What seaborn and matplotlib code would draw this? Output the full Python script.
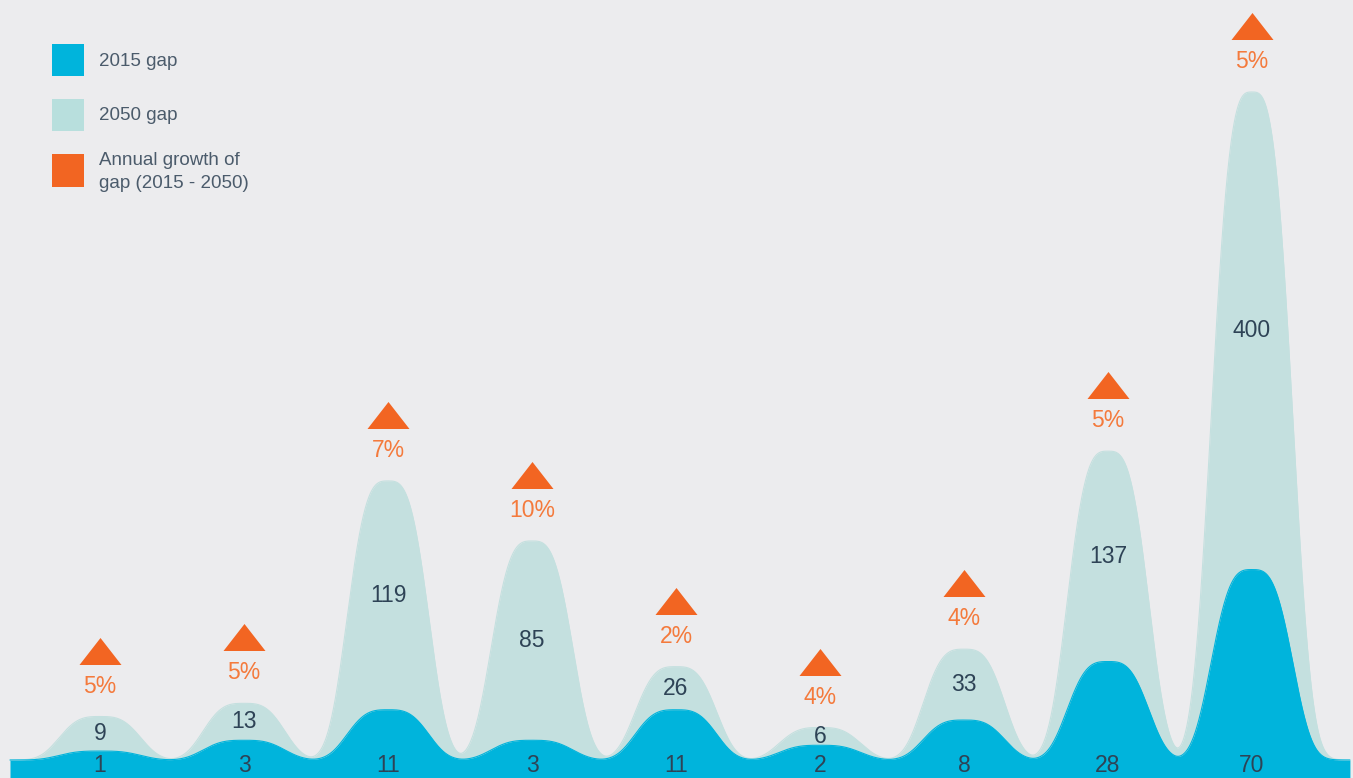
import numpy as np
import pandas as pd
import matplotlib
matplotlib.use('Agg')
import matplotlib.pyplot as plt
import seaborn as sns
from matplotlib.transforms import offset_copy, blended_transform_factory
from matplotlib.patches import Rectangle

gap_2015 = [1, 3, 11, 3, 11, 2, 8, 28, 70]
gap_2050 = [9, 13, 119, 85, 26, 6, 33, 137, 400]
growth = ['5%', '5%', '7%', '10%', '2%', '4%', '4%', '5%', '5%']
legend_labels = ['2015 gap', '2050 gap', 'Annual growth of\ngap (2015 - 2050)']

bg = '#ececee'
blue = '#00b4dc'
teal = '#c4e0df'
teal_key = '#b8dfdd'
orange = '#f26522'
pct_orange = '#f47a3c'
navy = '#2e4356'
grey_text = '#4b5b6b'

sns.set_theme(style='white', rc={'axes.facecolor': bg, 'figure.facecolor': bg})
plt.rcParams['font.family'] = ['Liberation Sans', 'DejaVu Sans']

P = 0.72  # compressed vertical scale, like the original artwork


def fwd(y):
    return np.sign(y) * np.abs(y) ** P


def inv(y):
    return np.sign(y) * np.abs(y) ** (1 / P)


pos = np.arange(len(gap_2050))
xs = np.linspace(-0.625, 8.68, 3000)


def bumps(vals):
    d = xs[:, None] - pos[None, :]
    return (np.asarray(vals, float)[None, :] * np.exp(-np.abs(d / 0.29) ** 3.2)).sum(axis=1)


curves = pd.DataFrame({'x': xs, 'gap_2015': bumps(gap_2015), 'gap_2050': bumps(gap_2050)})

fig = plt.figure(figsize=(13.53, 7.78), dpi=100)
ax = fig.add_axes([0, 0, 1, 1])
ax.set_yscale('function', functions=(fwd, inv))
ax.set_xlim(-100 / 144, 8 + 101 / 144)
# tallest peak reaches ~668 px above a baseline sitting 18 px from the bottom
unit = fwd(max(gap_2050)) / 668
ytop, ybot = inv(760 * unit), inv(-18 * unit)
ax.set_ylim(ybot, ytop)

ax.fill_between(curves['x'], 0, curves['gap_2050'], color=teal, lw=0)
sns.lineplot(data=curves, x='x', y='gap_2050', color=teal, lw=0.8, ax=ax)
ax.fill_between(curves['x'], ybot, curves['gap_2015'], color=blue, lw=0)
sns.lineplot(data=curves, x='x', y='gap_2015', color=blue, lw=0.8, ax=ax)

# value labels
for i in pos:
    mid = inv((fwd(gap_2050[i]) + fwd(gap_2015[i])) / 2)
    ax.text(i, mid, str(gap_2050[i]), ha='center', va='center', fontsize=16.5, color=navy)

bottom = blended_transform_factory(ax.transData, ax.transAxes)
for i in pos:
    ax.text(i, 6 / 778, str(gap_2015[i]), ha='center', va='baseline', fontsize=16.5,
            color=navy, transform=bottom)

# growth triangles
tri = [(-21, -13.5), (21, -13.5), (0, 13.5)]
tri_tr = offset_copy(ax.transData, fig=fig, x=0, y=66, units='dots')
pct_tr = offset_copy(ax.transData, fig=fig, x=0, y=24, units='dots')
for i in pos:
    ax.plot(i, gap_2050[i], marker=tri, ms=42 * 72 / 100, color=orange, mew=0,
            transform=tri_tr)
    ax.text(i, gap_2050[i], growth[i], ha='center', va='baseline', fontsize=16.5,
            color=pct_orange, transform=pct_tr)

# legend
W, H = 1353, 778
keys = [(blue, 44, 76, 62), (teal_key, 99, 131, 116), (orange, 154, 187, 172)]
for (c, top, bot, yc), lab in zip(keys, legend_labels):
    ax.add_patch(Rectangle((52 / W, 1 - bot / H), 32 / W, (bot - top) / H, color=c,
                           lw=0, transform=ax.transAxes))
    ax.text(99 / W, 1 - yc / H, lab, ha='left', va='center', fontsize=13.5,
            color=grey_text, linespacing=1.4, transform=ax.transAxes)

ax.set_axis_off()
fig.savefig('out.png', dpi=100, facecolor=bg)
